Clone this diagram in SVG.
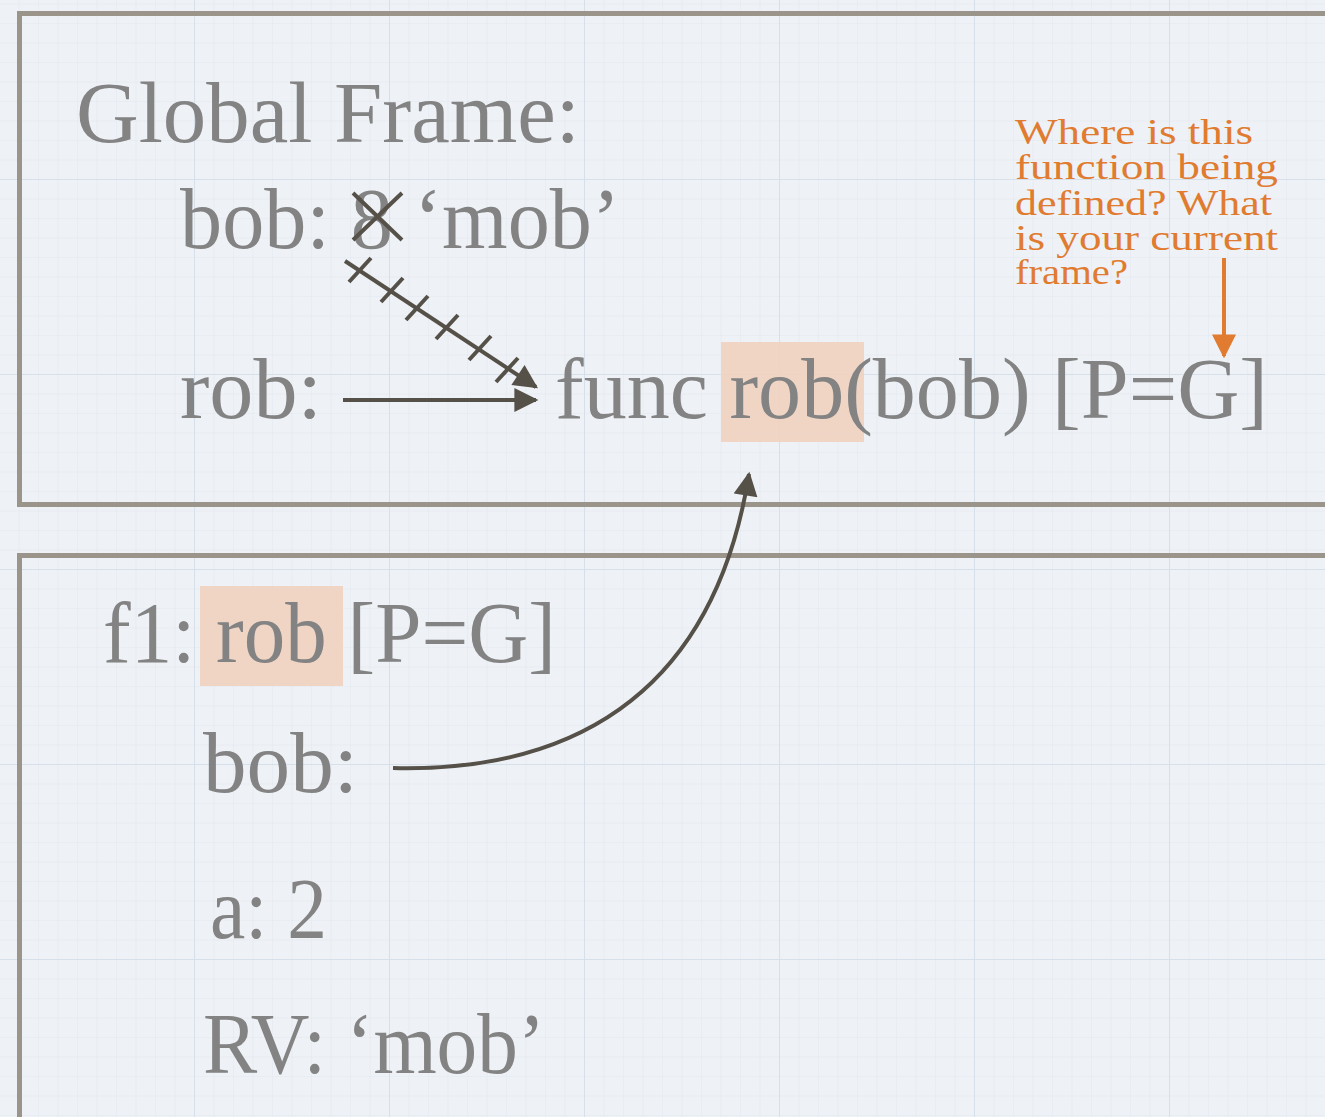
<svg xmlns="http://www.w3.org/2000/svg" width="1325" height="1117" viewBox="0 0 1325 1117">
<defs>
<pattern id="minor" width="19.5" height="19.5" patternUnits="userSpaceOnUse" x="0" y="-15">
<path d="M19.5 0V19.5M0 19.5H19.5" fill="none" stroke="#e2e8ef" stroke-width="1"/>
</pattern>
<pattern id="major" width="195" height="195" patternUnits="userSpaceOnUse" x="0" y="-15">
<path d="M195 0V195M0 195H195" fill="none" stroke="#d6e0ea" stroke-width="2"/>
</pattern>
<marker id="dk" viewBox="0 0 10 10" refX="9" refY="5" markerWidth="6.5" markerHeight="6" markerUnits="strokeWidth" orient="auto">
<path d="M0 0L10 5L0 10Z" fill="#555048"/>
</marker>
<marker id="or" viewBox="0 0 10 10" refX="9" refY="5" markerWidth="6" markerHeight="6.5" markerUnits="strokeWidth" orient="auto">
<path d="M0 0L10 5L0 10Z" fill="#e07b30"/>
</marker>
</defs>
<style>
.t{font-family:"Liberation Serif","DejaVu Serif",serif;fill:#838383;font-size:86px}
.o{font-family:"Liberation Serif","DejaVu Serif",serif;fill:#e07b30;font-size:36px}
.frame{fill:none;stroke:#9b948b;stroke-width:5}
.hl{fill:#efd2c0;opacity:0.9}
.ln{fill:none;stroke:#555048;stroke-width:4}
</style>
<rect width="1325" height="1117" fill="#eef2f6"/>
<rect width="1325" height="1117" fill="url(#minor)"/>
<rect width="1325" height="1117" fill="url(#major)"/>

<g id="global-frame">
<rect class="frame" x="19.5" y="13.5" width="1320" height="491"/>
<text class="t" x="76" y="142" textLength="504" lengthAdjust="spacingAndGlyphs">Global Frame:</text>
</g>
<g id="bob-global">
<text class="t" x="180" y="248" textLength="440" lengthAdjust="spacingAndGlyphs">bob: 8 ‘mob’</text>
<path class="ln" d="M353 193L402 240M353 240L402 193"/>
</g>
<g id="rob-global">
<text class="t" x="180" y="418" textLength="142" lengthAdjust="spacingAndGlyphs">rob:</text>
</g>
<g id="func-rob">
<rect class="hl" x="721" y="342" width="143" height="100"/>
<text class="t" x="555" y="418" textLength="713" lengthAdjust="spacingAndGlyphs">func rob(bob) [P=G]</text>
</g>
<g id="note">
<text class="o" x="1015" y="144" textLength="238" lengthAdjust="spacingAndGlyphs">Where is this</text>
<text class="o" x="1015" y="179" textLength="263" lengthAdjust="spacingAndGlyphs">function being</text>
<text class="o" x="1015" y="215" textLength="257" lengthAdjust="spacingAndGlyphs">defined? What</text>
<text class="o" x="1015" y="250" textLength="263" lengthAdjust="spacingAndGlyphs">is your current</text>
<text class="o" x="1015" y="284" textLength="113" lengthAdjust="spacingAndGlyphs">frame?</text>
</g>
<g id="f1-frame">
<rect class="frame" x="19.5" y="555.5" width="1320" height="600"/>
<rect class="hl" x="200" y="586" width="143" height="100"/>
<text class="t" x="103" y="662" textLength="453" lengthAdjust="spacingAndGlyphs">f1: rob [P=G]</text>
</g>
<g id="bob-f1"><text class="t" x="203" y="792" textLength="155" lengthAdjust="spacingAndGlyphs">bob:</text></g>
<g id="a-f1"><text class="t" x="210" y="938" textLength="117" lengthAdjust="spacingAndGlyphs">a: 2</text></g>
<g id="rv-f1"><text class="t" x="203" y="1073" textLength="342" lengthAdjust="spacingAndGlyphs">RV: ‘mob’</text></g>

<g id="connectors">
<path class="ln" d="M343 400H536" marker-end="url(#dk)"/>
<path class="ln" d="M345 261L536 387" marker-end="url(#dk)"/>
<path class="ln" d="M349 282L371 258M381 302L403 278M406 320L428 296M436 339L458 315M469 360L491 336M496 382L518 358"/>
<path class="ln" d="M393 768C560 772 712 705 749 474" marker-end="url(#dk)"/>
<path d="M1224 258V356" fill="none" stroke="#e07b30" stroke-width="4" marker-end="url(#or)"/>
</g>
</svg>
